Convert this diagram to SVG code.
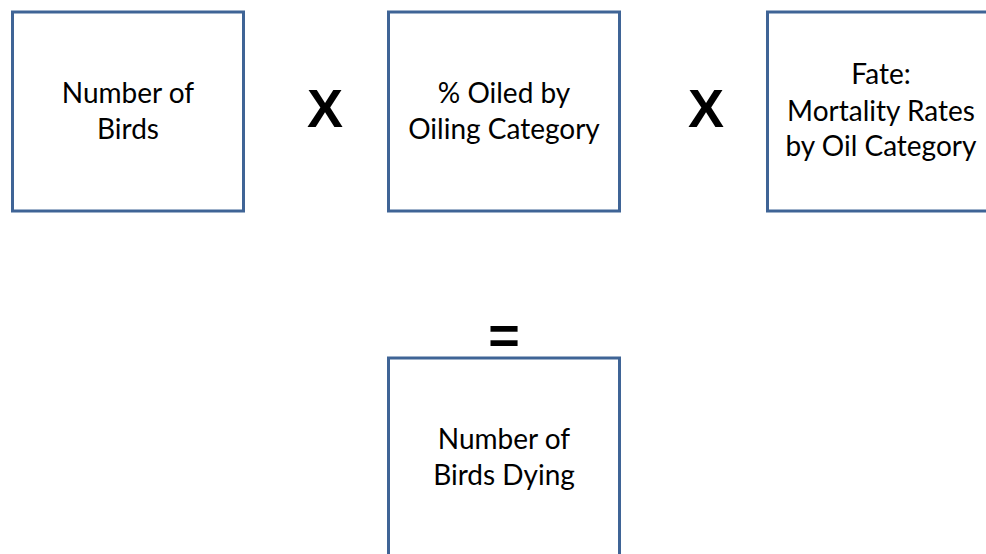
<svg xmlns="http://www.w3.org/2000/svg" width="986" height="554" viewBox="0 0 986 554">
<style>
.box{fill:#fff;stroke:#3F6496;stroke-width:3}
.t{font-family:Lato,"Liberation Sans",sans-serif;font-size:28px;fill:#000;text-anchor:middle}
.op{font-family:"Liberation Sans",Arial,sans-serif;font-weight:bold;font-size:54px;fill:#000;text-anchor:middle}
</style>
<rect width="986" height="554" fill="#fff"/>
<g id="node-birds">
<rect class="box" x="12.5" y="12" width="231" height="199"/>
<text class="t" x="128" y="103">Number of</text>
<text class="t" x="128" y="139">Birds</text>
</g>
<g id="node-oiled">
<rect class="box" x="388.5" y="12" width="231" height="199"/>
<text class="t" x="504" y="103">% Oiled by</text>
<text class="t" x="504" y="139">Oiling Category</text>
</g>
<g id="node-fate">
<rect class="box" x="767.5" y="12" width="230" height="199"/>
<text class="t" x="881" y="84">Fate:</text>
<text class="t" x="881" y="121">Mortality Rates</text>
<text class="t" x="881" y="156">by Oil Category</text>
</g>
<g id="node-dying">
<rect class="box" x="388.5" y="358" width="231" height="210"/>
<text class="t" x="504" y="449">Number of</text>
<text class="t" x="504" y="485">Birds Dying</text>
</g>
<g id="connectors">
<text class="op" x="325" y="127">X</text>
<text class="op" x="706" y="127">X</text>
<text class="op" x="504" y="354">=</text>
</g>
</svg>
